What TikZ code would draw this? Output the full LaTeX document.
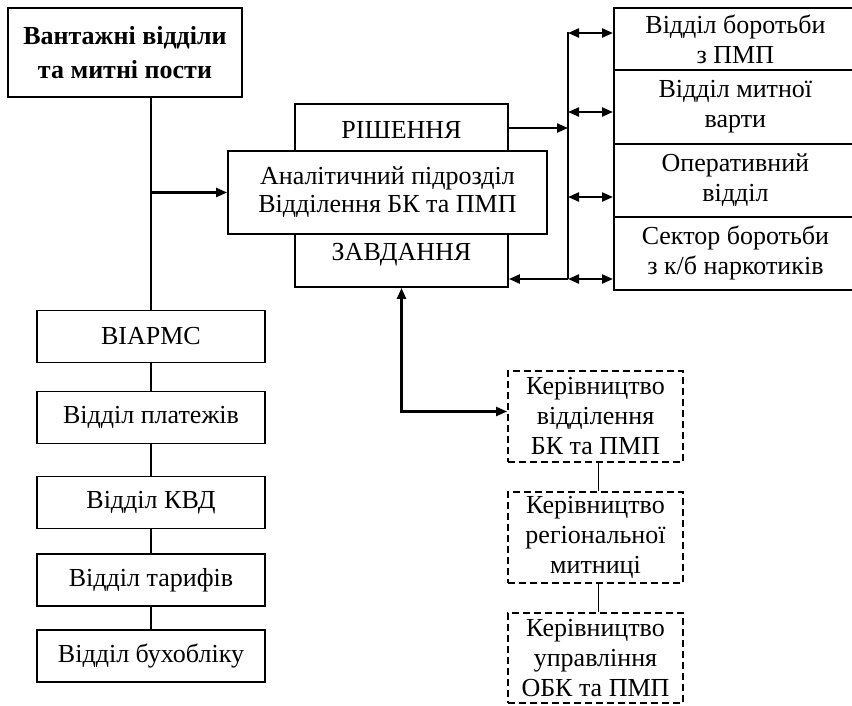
\documentclass[tikz,border=0pt]{standalone}
\usepackage{fontspec}
\setmainfont{Liberation Serif}
\usetikzlibrary{arrows.meta}
\tikzset{
 box/.style={draw, line width=1.8pt, align=center, inner sep=1pt, font=\fontsize{26}{30}\selectfont, fill=white},
 lbox/.style={box, minimum width=228pt, minimum height=52pt},
 rbox/.style={box, minimum width=243pt, anchor=north west},
 dbox/.style={box, dash pattern=on 7pt off 4pt, minimum width=175pt, minimum height=91pt},
 link/.style={line width=1.7pt},
 arr/.style={line width=2.2pt, -{Triangle[length=11pt,width=9pt]}},
 darr/.style={line width=2.2pt, {Triangle[length=11pt,width=9pt]}-{Triangle[length=11pt,width=9pt]}},
 txt/.style={font=\fontsize{26}{30}\selectfont, inner sep=0pt}
}
\begin{document}
\begin{tikzpicture}[x=1pt,y=-1pt]
\path[use as bounding box, clip] (0,0) rectangle (852,705);
% left column
\node[box, font=\bfseries\fontsize{26}{34}\selectfont, minimum width=234pt, minimum height=89pt] (top) at (125,52.5) {Вантажні відділи\\та митні пости};
\node[lbox] (viarms) at (151,336.5) {ВІАРМС};
\node[lbox] (plat) at (151,417.5) {Відділ платежів};
\node[lbox] (kvd) at (151,502.5) {Відділ КВД};
\node[lbox] (tar) at (151,580) {Відділ тарифів};
\node[lbox] (buh) at (151,656) {Відділ бухобліку};
\draw[link] (viarms.north |- top.south) -- (viarms.north);
\draw[link] (viarms.south) -- (plat.north);
\draw[link] (plat.south) -- (kvd.north);
\draw[link] (kvd.south) -- (tar.north);
\draw[link] (tar.south) -- (buh.north);
% centre
\node[box, minimum width=213pt, minimum height=183pt] (outer) at (401.5,195.5) {};
\node[txt] (rish) at (401.5,130) {РІШЕННЯ};
\node[txt] (zavd) at (401.5,255) {ЗАВДАННЯ};
\node[box, font=\fontsize{26}{28}\selectfont, minimum width=319pt, minimum height=83pt] (anal) at (387.5,192.5) {Аналітичний підрозділ\\Відділення БК та ПМП};
\coordinate (j) at (150,192.5);
\draw[arr] (j) -- (anal.west);
% right boxes
\node[rbox, minimum height=62pt] (b1) at (613,7) {Відділ боротьби\\з ПМП};
\node[rbox, minimum height=74pt] (b2) at (613,69) {Відділ митної\\варти};
\node[rbox, minimum height=73pt] (b3) at (613,143) {Оперативний\\відділ};
\node[rbox, minimum height=73pt] (b4) at (613,216) {Сектор боротьби\\з к/б наркотиків};
\coordinate (q1) at (568,33);
\coordinate (q2) at (568,112);
\coordinate (q3) at (568,197);
\coordinate (q4) at (568,279);
\coordinate (qr) at (568,128);
\draw[line width=2.2pt] ([yshift=1pt]q1) -- (q4);
\draw[darr] (q1) -- (q1 -| b1.west);
\draw[darr] (q2) -- (q2 -| b2.west);
\draw[darr] (q3) -- (q3 -| b3.west);
\draw[darr] (q4) -- (q4 -| b4.west);
\draw[arr] (outer.east |- qr) -- (qr);
\draw[arr] (q4) -- (q4 -| outer.east);
% dashed boxes
\node[dbox] (k1) at (595.5,416.5) {Керівництво\\відділення\\БК та ПМП};
\node[dbox] (k2) at (595.5,537.5) {Керівництво\\регіональної\\митниці};
\node[dbox, minimum height=90pt] (k3) at (595.5,658) {Керівництво\\управління\\ОБК та ПМП};
\draw[link] ([xshift=3pt]k1.south) -- ([xshift=3pt]k2.north);
\draw[link] ([xshift=3pt]k2.south) -- ([xshift=3pt]k3.north);
\coordinate (kk) at ([yshift=5pt]k1.west);
\draw[darr] (outer.south) |- (kk);
\end{tikzpicture}
\end{document}
